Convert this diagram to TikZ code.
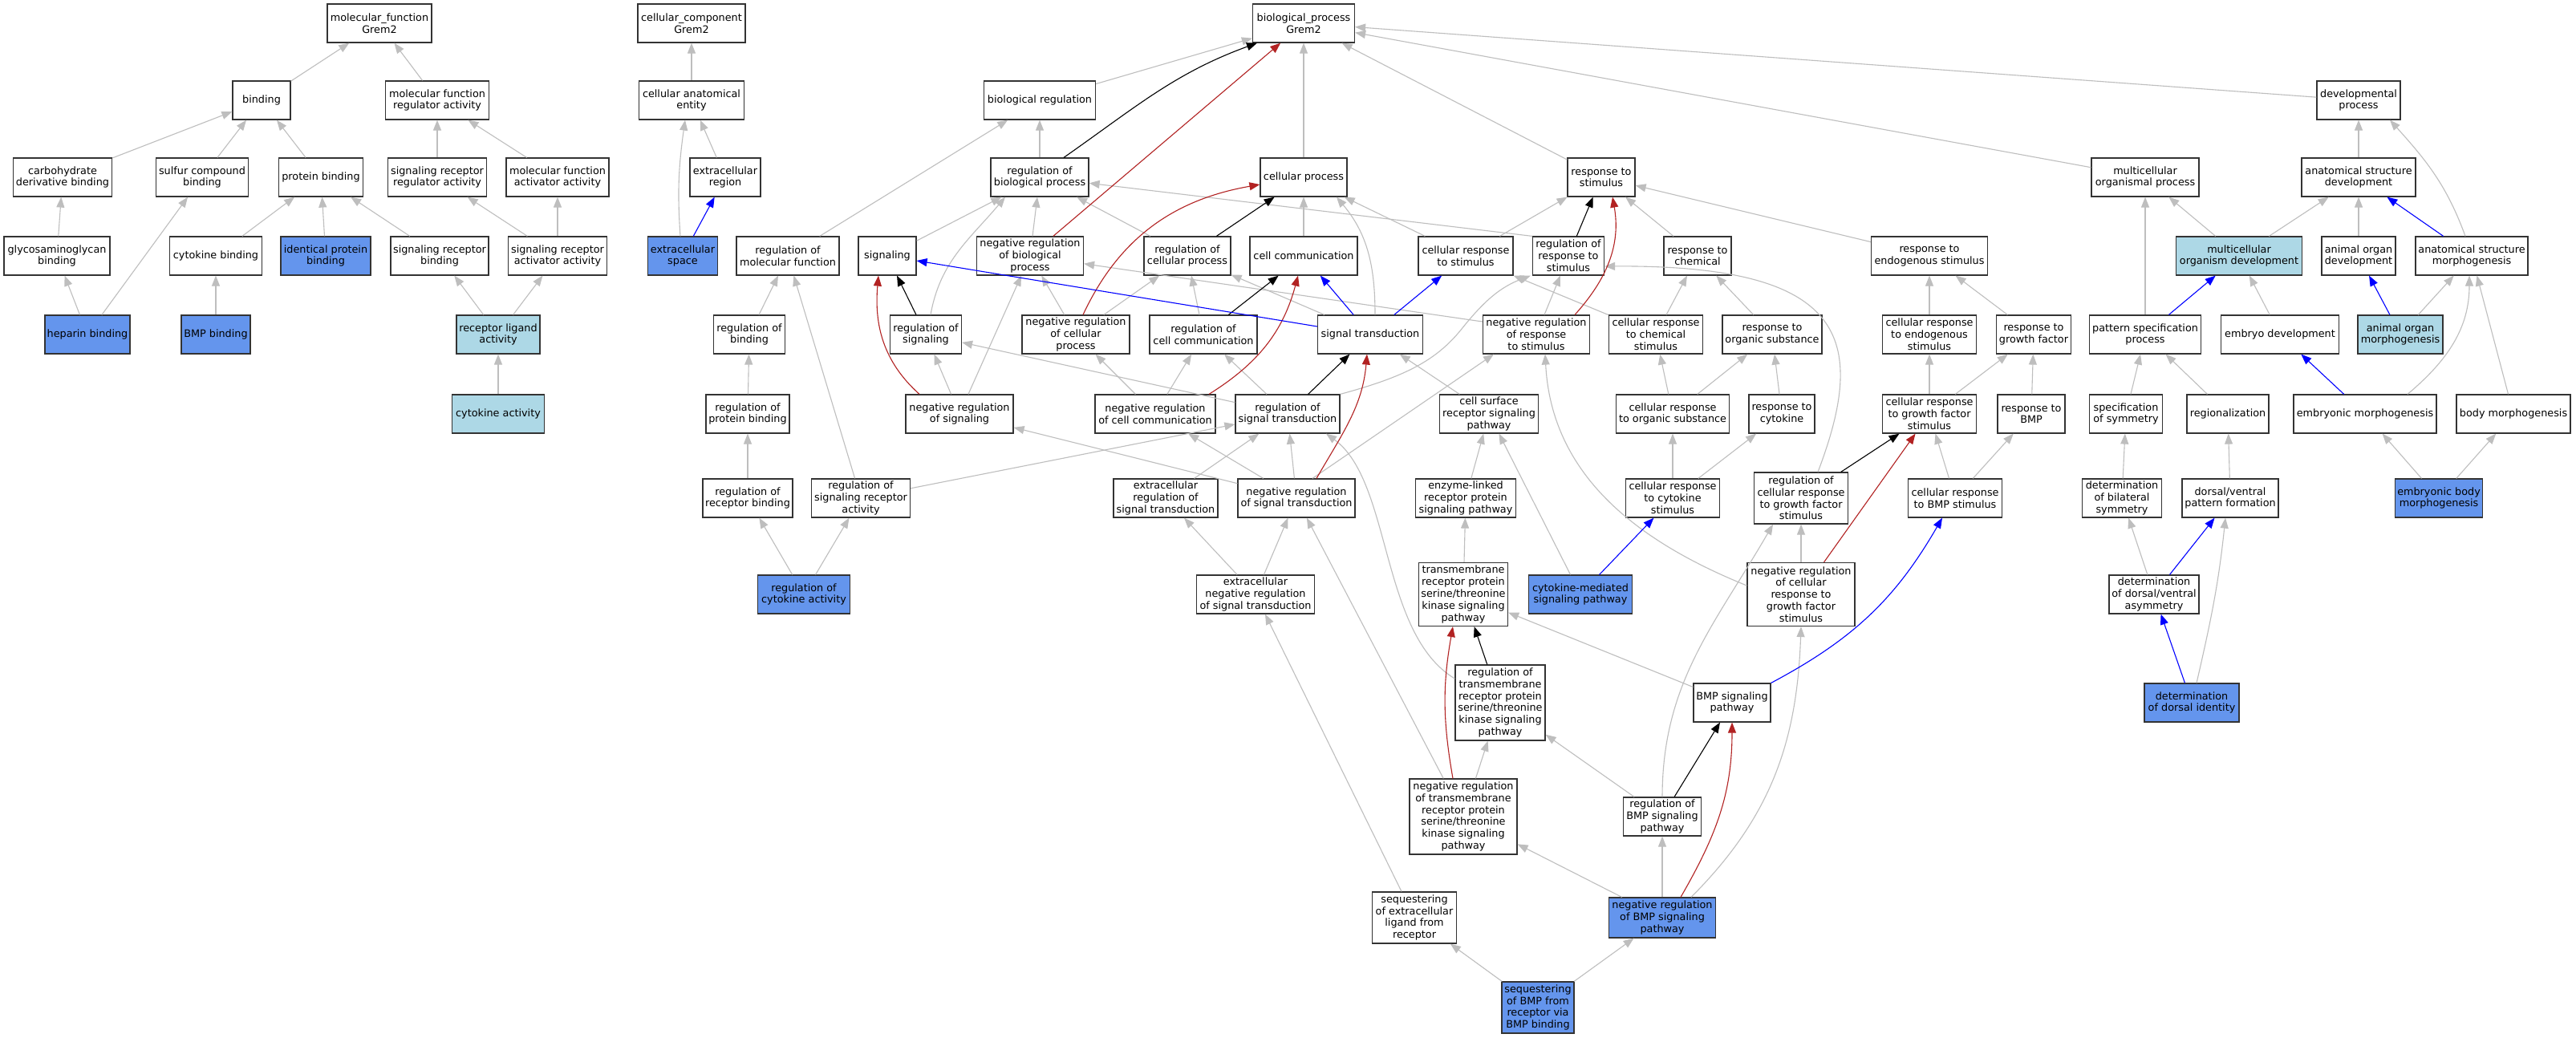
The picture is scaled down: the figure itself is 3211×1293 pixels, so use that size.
\documentclass[tikz,border=0pt]{standalone}
\usepackage{fontspec}
\setmainfont{DejaVu Sans}
\usetikzlibrary{arrows.meta}
\definecolor{eg}{HTML}{BEBEBE}
\definecolor{fr}{HTML}{B22222}
\definecolor{cfb}{HTML}{6495ED}
\definecolor{lbl}{HTML}{ADD8E6}
\newcommand\gofont{\fontsize{12.8}{14.8}\selectfont}
\tikzset{
  box/.style={draw=black!80, line width=1.2pt, fill=white, align=center, inner sep=0pt, font=\gofont},
  wh/.style 2 args={minimum width=#1pt, minimum height=#2pt},
  fillA/.style={fill=cfb},
  fillB/.style={fill=lbl},
  tip/.style={-{Triangle[length=13pt,width=10pt]}},
  ge/.style={draw=eg, line width=1.1pt, tip},
  be/.style={draw=black, line width=1.1pt, tip},
  re/.style={draw=fr, line width=1.1pt, tip},
  ble/.style={draw=blue, line width=1.1pt, tip},
}
\begin{document}
\begin{tikzpicture}[x=1pt,y=1pt]
\fill[white] (0,0) rectangle (3211,-1293);
\useasboundingbox (0,0) rectangle (3211,-1293);
% ---------- molecular function ----------
\node[box,wh={130}{48}] (mf) at (473,-29) {molecular\_function\\Grem2};
\node[box,wh={72}{48}] (bind) at (326,-125) {binding};
\node[box,wh={129}{48}] (mfra) at (545,-125) {molecular function\\regulator activity};
\node[box,wh={123}{48}] (cdb) at (78,-221) {carbohydrate\\derivative binding};
\node[box,wh={115}{48}] (scb) at (252,-221) {sulfur compound\\binding};
\node[box,wh={105}{48}] (pb) at (400,-221) {protein binding};
\node[box,wh={123}{48}] (srra) at (545,-221) {signaling receptor\\regulator activity};
\node[box,wh={128}{48}] (mfaa) at (695,-221) {molecular function\\activator activity};
\node[box,wh={132}{48}] (gagb) at (71,-319) {glycosaminoglycan\\binding};
\node[box,wh={115}{48}] (cb) at (269,-319) {cytokine binding};
\node[box,fillA,wh={112}{48}] (ipb) at (406,-319) {identical protein\\binding};
\node[box,wh={122}{48}] (srb) at (548,-319) {signaling receptor\\binding};
\node[box,wh={123}{48}] (sraa) at (695,-319) {signaling receptor\\activator activity};
\node[box,fillA,wh={106}{48}] (hb) at (109,-417) {heparin binding};
\node[box,fillA,wh={86}{48}] (bmpb) at (269,-417) {BMP binding};
\node[box,fillB,wh={104}{48}] (rla) at (621,-417) {receptor ligand\\activity};
\node[box,fillB,wh={115}{48}] (ca) at (621,-516) {cytokine activity};
% ---------- cellular component ----------
\node[box,wh={134}{48}] (cc) at (862,-29) {cellular\_component\\Grem2};
\node[box,wh={131}{48}] (cae) at (862,-125) {cellular anatomical\\entity};
\node[box,wh={88}{48}] (er) at (904,-221) {extracellular\\region};
\node[box,fillA,wh={87}{48}] (es) at (851,-319) {extracellular\\space};
% ---------- biological process ----------
\node[box,wh={127}{48}] (bp) at (1625,-29) {biological\_process\\Grem2};
\node[box,wh={139}{48}] (br) at (1296,-125) {biological regulation};
\node[box,wh={104}{48}] (dp) at (2940,-125) {developmental\\process};
\node[box,wh={122}{48}] (rbp) at (1296,-221) {regulation of\\biological process};
\node[box,wh={108}{48}] (cp) at (1625,-221) {cellular process};
\node[box,wh={84}{48}] (rs) at (1996,-221) {response to\\stimulus};
\node[box,wh={134}{48}] (mop) at (2674,-221) {multicellular\\organismal process};
\node[box,wh={142}{48}] (asd) at (2940,-221) {anatomical structure\\development};
\node[box,wh={128}{48}] (rmf) at (982,-319) {regulation of\\molecular function};
\node[box,wh={72}{48}] (sig) at (1106,-319) {signaling};
\node[box,wh={133}{48}] (nrbp) at (1284,-319) {negative regulation\\of biological\\process};
\node[box,wh={108}{48}] (rcp) at (1480,-319) {regulation of\\cellular process};
\node[box,wh={134}{48}] (cc2) at (1625,-319) {cell communication};
\node[box,wh={118}{48}] (crs) at (1827,-319) {cellular response\\to stimulus};
\node[box,wh={89}{48}] (rrs) at (1955,-319) {regulation of\\response to\\stimulus};
\node[box,wh={84}{48}] (rc) at (2116,-319) {response to\\chemical};
\node[box,wh={145}{48}] (res) at (2405,-319) {response to\\endogenous stimulus};
\node[box,fillB,wh={157}{48}] (mod) at (2791,-319) {multicellular\\organism development};
\node[box,wh={92}{48}] (aod) at (2940,-319) {animal organ\\development};
\node[box,wh={140}{48}] (asm) at (3081,-319) {anatomical structure\\morphogenesis};
% row 4
\node[box,wh={89}{48}] (rb) at (934,-417) {regulation of\\binding};
\node[box,wh={89}{48}] (rsig) at (1154,-417) {regulation of\\signaling};
\node[box,wh={134}{48}] (nrcp) at (1341,-417) {negative regulation\\of cellular\\process};
\node[box,wh={134}{48}] (rcc) at (1500,-417) {regulation of\\cell communication};
\node[box,wh={131}{48}] (st) at (1708,-417) {signal transduction};
\node[box,wh={133}{48}] (nrrs) at (1915,-417) {negative regulation\\of response\\to stimulus};
\node[box,wh={117}{48}] (crcs) at (2064,-417) {cellular response\\to chemical\\stimulus};
\node[box,wh={124}{48}] (ros) at (2209,-417) {response to\\organic substance};
\node[box,wh={117}{48}] (cres) at (2405,-417) {cellular response\\to endogenous\\stimulus};
\node[box,wh={93}{48}] (rgf) at (2535,-417) {response to\\growth factor};
\node[box,wh={139}{48}] (psp) at (2674,-417) {pattern specification\\process};
\node[box,wh={147}{48}] (ed) at (2842,-417) {embryo development};
\node[box,fillB,wh={106}{48}] (aom) at (2992,-417) {animal organ\\morphogenesis};
% row 5
\node[box,wh={104}{48}] (rpb) at (932,-516) {regulation of\\protein binding};
\node[box,wh={134}{48}] (nrsig) at (1196,-516) {negative regulation\\of signaling};
\node[box,wh={150}{48}] (nrcc) at (1440,-516) {negative regulation\\of cell communication};
\node[box,wh={130}{48}] (rst) at (1605,-516) {regulation of\\signal transduction};
\node[box,wh={123}{48}] (csrsp) at (1856,-516) {cell surface\\receptor signaling\\pathway};
\node[box,wh={141}{48}] (cros) at (2085,-516) {cellular response\\to organic substance};
\node[box,wh={82}{48}] (rcyt) at (2221,-516) {response to\\cytokine};
\node[box,wh={117}{48}] (crgf) at (2405,-516) {cellular response\\to growth factor\\stimulus};
\node[box,wh={84}{48}] (rbmp) at (2532,-516) {response to\\BMP};
\node[box,wh={91}{48}] (sos) at (2650,-516) {specification\\of symmetry};
\node[box,wh={102}{48}] (reg) at (2777,-516) {regionalization};
\node[box,wh={178}{48}] (em) at (2948,-516) {embryonic morphogenesis};
\node[box,wh={142}{48}] (bm) at (3133,-516) {body morphogenesis};
% row 6
\node[box,wh={112}{48}] (rrb) at (932,-621) {regulation of\\receptor binding};
\node[box,wh={123}{48}] (rsra) at (1073,-621) {regulation of\\signaling receptor\\activity};
\node[box,wh={130}{48}] (erst) at (1453,-621) {extracellular\\regulation of\\signal transduction};
\node[box,wh={146}{48}] (nrst) at (1616,-621) {negative regulation\\of signal transduction};
\node[box,wh={125}{48}] (elrp) at (1827,-621) {enzyme-linked\\receptor protein\\signaling pathway};
\node[box,wh={117}{48}] (crcys) at (2085,-621) {cellular response\\to cytokine\\stimulus};
\node[box,wh={117}{64}] (rcrgf) at (2245,-621) {regulation of\\cellular response\\to growth factor\\stimulus};
\node[box,wh={117}{48}] (crbmp) at (2437,-621) {cellular response\\to BMP stimulus};
\node[box,wh={99}{48}] (dbs) at (2645,-621) {determination\\of bilateral\\symmetry};
\node[box,wh={120}{48}] (dvpf) at (2780,-621) {dorsal/ventral\\pattern formation};
\node[box,fillA,wh={109}{48}] (ebm) at (3040,-621) {embryonic body\\morphogenesis};
% row 7
\node[box,fillA,wh={115}{48}] (rca) at (1002,-741) {regulation of\\cytokine activity};
\node[box,wh={147}{48}] (enrst) at (1565,-741) {extracellular\\negative regulation\\of signal transduction};
\node[box,wh={111}{79}] (tmr) at (1824,-741) {transmembrane\\receptor protein\\serine/threonine\\kinase signaling\\pathway};
\node[box,fillA,wh={129}{48}] (cmsp) at (1970,-741) {cytokine-mediated\\signaling pathway};
\node[box,wh={134}{79}] (nrcrgf) at (2245,-741) {negative regulation\\of cellular\\response to\\growth factor\\stimulus};
\node[box,wh={112}{48}] (ddva) at (2685,-741) {determination\\of dorsal/ventral\\asymmetry};
% row 8
\node[box,wh={112}{94}] (rtmr) at (1870,-876) {regulation of\\transmembrane\\receptor protein\\serine/threonine\\kinase signaling\\pathway};
\node[box,wh={96}{48}] (bmpsp) at (2159,-876) {BMP signaling\\pathway};
\node[box,fillA,wh={118}{48}] (ddi) at (2732,-876) {determination\\of dorsal identity};
% row 9
\node[box,wh={134}{94}] (nrtmr) at (1824,-1018) {negative regulation\\of transmembrane\\receptor protein\\serine/threonine\\kinase signaling\\pathway};
\node[box,wh={97}{48}] (rbmpsp) at (2072,-1018) {regulation of\\BMP signaling\\pathway};
% row 10
\node[box,wh={105}{64}] (selr) at (1763,-1144) {sequestering\\of extracellular\\ligand from\\receptor};
\node[box,fillA,wh={133}{50}] (nrbmp) at (2072,-1144) {negative regulation\\of BMP signaling\\pathway};
% row 11
\node[box,fillA,wh={90}{64}] (sbmp) at (1917,-1256) {sequestering\\of BMP from\\receptor via\\BMP binding};
% ---------- gray straight edges ----------
\foreach \a/\b in {bind/mf, mfra/mf, cdb/bind, scb/bind, pb/bind, srra/mfra, mfaa/mfra,
  gagb/cdb, hb/gagb, hb/scb, cb/pb, ipb/pb, srb/pb, sraa/srra, sraa/mfaa, bmpb/cb,
  rla/srb, rla/sraa, ca/rla, cae/cc, er/cae,
  br/bp, cp/bp, rs/bp, mop/bp, dp/bp, rbp/br, rmf/br,
  sig/rbp, nrbp/rbp, rcp/rbp, nrsig/rsig, nrsig/nrbp, nrcp/nrbp, nrcp/rcp,
  cc2/cp, crs/cp, crs/rs, rc/rs, res/rs, st/rcp, rcc/rcp, nrcc/rcc, rst/rcc, nrcc/nrcp,
  rst/rsig, nrst/nrsig, rb/rmf, rsra/rmf, rpb/rb, rrb/rpb, rca/rrb, rca/rsra,
  rsra/rst, erst/rst, nrst/rst, nrst/nrcc, enrst/erst, enrst/nrst, selr/enrst, nrtmr/nrst,
  csrsp/st, crcs/crs, crcs/rc, nrrs/rrs, ros/rc, cros/crcs, cros/ros, rcyt/ros,
  crcys/cros, crcys/rcyt, elrp/csrsp, cmsp/csrsp, tmr/elrp,
  nrtmr/rtmr, bmpsp/tmr, rbmpsp/rtmr, nrbmp/rbmpsp, nrbmp/nrtmr, sbmp/selr, sbmp/nrbmp,
  nrcrgf/rcrgf, cres/res, rgf/res, crgf/cres, crgf/rgf, rbmp/rgf, crbmp/crgf, crbmp/rbmp,
  asd/dp, mod/mop, psp/mop, mod/asd, aod/asd, ed/mod, aom/asm, bm/asm, sos/psp, reg/psp,
  dbs/sos, dvpf/reg, ebm/em, ebm/bm, ddva/dbs}
  \draw[ge] (\a) -- (\b);
% ---------- gray special edges ----------
\draw[ge] (rrs.north west) -- (rbp);
\draw[ge] ([yshift=16pt]nrrs.west) -- (nrbp);
\draw[ge] ([xshift=20pt]nrst.north) -- ([xshift=-53pt]nrrs.south);
\draw[ge] ([xshift=-3pt]es.north) to[out=94,in=-98] ([xshift=-8pt]cae.south);
\draw[ge] ([xshift=6pt]rsig.north) to[out=80,in=-130] ([xshift=-43pt]rbp.south);
\draw[ge] ([xshift=6pt]st.north) to[out=90,in=-50] ([xshift=41pt]cp.south);
\draw[ge] (rst.north east) .. controls (1750,-470) and (1790,-450) .. (1822,-410)
  .. controls (1850,-375) and (1870,-358) .. ([xshift=-2pt]rrs.south west);
\draw[ge] ([yshift=30pt]rtmr.west) .. controls (1720,-790) and (1735,-600) .. ([xshift=48pt]rst.south);
\draw[ge] ([yshift=11pt]nrcrgf.west) to[out=158,in=-87] ([xshift=11pt]nrrs.south);
\draw[ge] ([xshift=21pt]rcrgf.north) .. controls (2330,-420) and (2300,-330) .. ([yshift=-13pt]rrs.east);
\draw[ge] (rbmpsp.north) to[out=90,in=-120] ([xshift=-35pt]rcrgf.south);
\draw[ge] ([xshift=36pt]nrbmp.north) to[out=45,in=-92] (nrcrgf.south);
\draw[ge] ([xshift=-8pt]asm.north) to[out=110,in=-48] ([xshift=39pt]dp.south);
\draw[ge] ([xshift=53pt]em.north) to[out=40,in=-90] ([xshift=-3pt]asm.south);
\draw[ge] ([xshift=6pt]ddi.north) to[out=77,in=-96] ([xshift=-6pt]dvpf.south);
% ---------- black edges ----------
\foreach \a/\b in {rsig/sig, rcp/cp, rcc/cc2, rrs/rs, rst/st, rtmr/tmr, rbmpsp/bmpsp, rcrgf/crgf}
  \draw[be] (\a) -- (\b);
\draw[be] ([xshift=30pt]rbp.north) to[out=35,in=-160] ([xshift=-58pt]bp.south);
% ---------- red edges ----------
\draw[re] (nrbp) -- (bp);
\draw[re] (nrcrgf) -- (crgf);
\draw[re] ([xshift=-50pt]nrsig.north) to[out=138,in=-95] ([xshift=-11pt]sig.south);
\draw[re] ([xshift=9pt]nrcp.north) to[out=65,in=-170] ([yshift=-9pt]cp.west);
\draw[re] ([xshift=67pt]nrcc.north) to[out=32,in=-105] ([xshift=-7pt]cc2.south);
\draw[re] ([xshift=48pt]nrrs.north) to[out=48,in=-80] ([xshift=14pt]rs.south);
\draw[re] ([xshift=25pt]nrst.north) to[out=60,in=-95] ([xshift=-4pt]st.south);
\draw[re] ([xshift=-13pt]nrtmr.north) to[out=100,in=-100] ([xshift=-13pt]tmr.south);
\draw[re] ([xshift=23pt]nrbmp.north) to[out=60,in=-90] (bmpsp.south);
% ---------- blue edges ----------
\foreach \a/\b in {es/er, st/cc2, st/crs, cmsp/crcys, psp/mod, asm/asd, aom/aod, em/ed, ddva/dvpf, ddi/ddva}
  \draw[ble] (\a) -- (\b);
\draw[ble] ([yshift=10pt]st.west) -- (sig);
\draw[ble] (bmpsp.north east) to[out=28,in=-120] ([xshift=-16pt]crbmp.south);
\end{tikzpicture}
\end{document}
